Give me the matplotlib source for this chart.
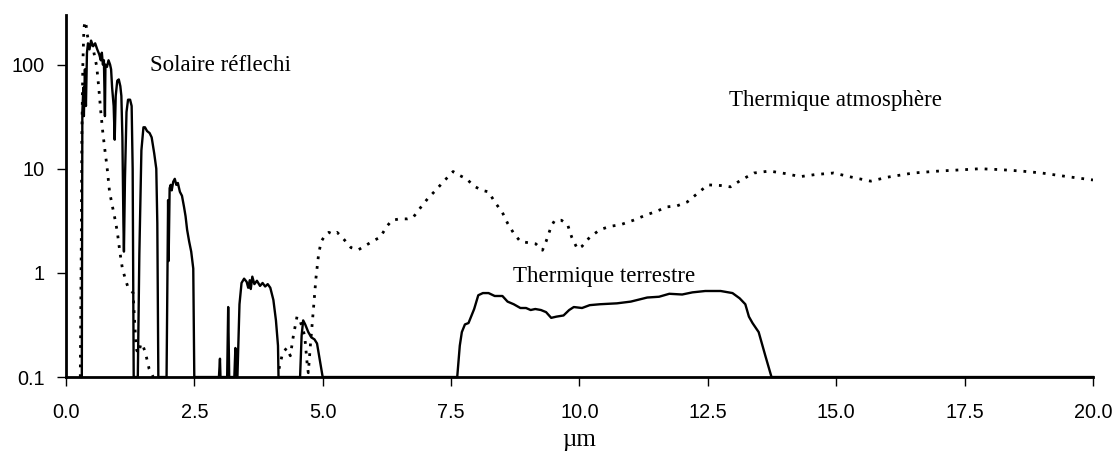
import numpy as np
import matplotlib.pyplot as plt

# courbe continue : solaire réfléchi + thermique terrestre (um, valeur)
solid_um = [0.30, 0.31, 0.32, 0.34, 0.35, 0.37, 0.39, 0.41, 0.43, 0.46, 0.49, 0.53, 0.57, 0.61,
            0.65, 0.68, 0.70, 0.72, 0.74, 0.76, 0.77, 0.80, 0.83, 0.86, 0.88, 0.90, 0.93, 0.95,
            0.97, 1.00, 1.03, 1.06, 1.08, 1.10, 1.12, 1.13, 1.15, 1.18, 1.21, 1.25, 1.28, 1.30,
            1.32, 1.40, 1.43, 1.47, 1.51, 1.54, 1.58, 1.63, 1.67, 1.72, 1.76, 1.78, 1.80, 1.96,
            1.98, 1.99, 2.00, 2.02, 2.04, 2.06, 2.09, 2.12, 2.15, 2.18, 2.22, 2.26, 2.30, 2.33,
            2.36, 2.40, 2.44, 2.48, 2.50, 2.98, 3.00, 3.01, 3.14, 3.16, 3.18, 3.28, 3.30, 3.32,
            3.34, 3.38, 3.42, 3.47, 3.52, 3.55, 3.58, 3.60, 3.63, 3.67, 3.72, 3.78, 3.83, 3.88,
            3.93, 3.98, 4.04, 4.09, 4.13, 4.14, 4.56, 4.59, 4.62, 4.66, 4.72, 4.78, 4.84, 4.89,
            4.95, 5.00, 7.62, 7.67, 7.71, 7.77, 7.84, 7.95, 8.03, 8.12, 8.23, 8.35, 8.50, 8.60,
            8.72, 8.85, 8.96, 9.05, 9.14, 9.25, 9.35, 9.45, 9.55, 9.69, 9.80, 9.89, 10.05, 10.20,
            10.40, 10.73, 11.00, 11.32, 11.55, 11.75, 12.00, 12.20, 12.45, 12.75, 12.98, 13.12,
            13.23, 13.30, 13.37, 13.49, 13.62, 13.74, 20.00]
solid_val = [0.1, 0.1, 35, 60, 32, 90, 40, 130, 160, 140, 170, 150, 160, 140,
             125, 110, 130, 100, 110, 32, 100, 95, 110, 100, 90, 60, 40, 19,
             50, 70, 72, 62, 50, 20, 3, 1.6, 8, 35, 46, 46, 40, 10,
             0.1, 0.1, 1.5, 15, 25, 25, 23, 22, 20, 14, 10, 3, 0.1, 0.1,
             1.3, 5, 1.3, 6.5, 7, 6.2, 7.5, 8.0, 7.0, 7.3, 6.0, 5.5, 4.3, 3.5,
             2.6, 2.0, 1.6, 1.1, 0.1, 0.1, 0.15, 0.1, 0.1, 0.47, 0.1, 0.1, 0.19, 0.1,
             0.1, 0.5, 0.8, 0.88, 0.82, 0.72, 0.85, 0.7, 0.92, 0.78, 0.84, 0.75, 0.80, 0.74,
             0.78, 0.72, 0.55, 0.35, 0.2, 0.1, 0.1, 0.25, 0.35, 0.32, 0.27, 0.24, 0.23, 0.21,
             0.14, 0.1, 0.1, 0.2, 0.27, 0.32, 0.33, 0.45, 0.61, 0.64, 0.64, 0.6, 0.6, 0.53,
             0.50, 0.46, 0.46, 0.44, 0.45, 0.44, 0.42, 0.37, 0.38, 0.39, 0.44, 0.47, 0.46, 0.49,
             0.50, 0.51, 0.53, 0.58, 0.59, 0.63, 0.62, 0.65, 0.67, 0.67, 0.64, 0.57,
             0.5, 0.38, 0.33, 0.27, 0.16, 0.1, 0.1]

# courbe pointillée : thermique atmosphère (deux morceaux)
dot1_um = [0.28, 0.30, 0.31, 0.33, 0.35, 0.37, 0.39, 0.41, 0.44, 0.48, 0.52, 0.56, 0.60, 0.64,
           0.68, 0.72, 0.76, 0.80, 0.85, 0.90, 0.95, 1.00, 1.05, 1.10, 1.15, 1.20, 1.25, 1.31,
           1.33, 1.36, 1.38, 1.42, 1.46, 1.50, 1.55, 1.62, 1.70]
dot1_val = [0.1, 2, 20, 100, 220, 260, 250, 200, 170, 160, 150, 120, 96, 60,
            35, 22, 15, 10.5, 6, 4.5, 3.4, 2.5, 1.6, 1.1, 0.9, 0.75, 0.7, 0.64,
            0.4, 0.22, 0.18, 0.17, 0.21, 0.2, 0.17, 0.12, 0.1]
dot2_um = [4.15, 4.22, 4.30, 4.37, 4.43, 4.50, 4.55, 4.60, 4.65, 4.70, 4.72, 4.76, 4.82, 4.87,
           4.92, 4.97, 5.05, 5.12, 5.20, 5.28, 5.36, 5.45, 5.55, 5.69, 5.85, 6.00, 6.12, 6.25,
           6.35, 6.50, 6.65, 6.76, 6.90, 7.05, 7.20, 7.35, 7.54, 7.65, 7.80, 7.95, 8.10, 8.23,
           8.35, 8.50, 8.60, 8.72, 8.85, 9.00, 9.15, 9.28, 9.35, 9.45, 9.52, 9.65, 9.77, 9.85,
           9.96, 10.05, 10.20, 10.40, 10.60, 10.80, 11.05, 11.30, 11.50, 11.70, 11.90, 12.10,
           12.30, 12.50, 12.75, 12.94, 13.15, 13.40, 13.70, 14.00, 14.30, 14.60, 14.95, 15.30,
           15.67, 16.00, 16.50, 17.00, 17.50, 17.80, 18.20, 18.60, 19.00, 19.50, 20.00]
dot2_val = [0.12, 0.17, 0.19, 0.16, 0.25, 0.38, 0.36, 0.3, 0.25, 0.13, 0.11, 0.2, 0.45, 0.9,
            1.5, 2.0, 2.3, 2.45, 2.35, 2.45, 2.25, 2.0, 1.75, 1.66, 1.85, 2.05, 2.2, 2.8,
            3.2, 3.3, 3.3, 3.4, 4.2, 5.2, 6.2, 7.5, 9.4, 8.7, 8.0, 6.8, 6.2, 6.0,
            4.8, 3.8, 3.0, 2.4, 2.0, 1.95, 1.9, 1.65, 2.0, 2.8, 3.2, 3.2, 2.9, 2.2,
            1.7, 1.8, 2.2, 2.6, 2.8, 2.9, 3.2, 3.6, 3.9, 4.3, 4.4, 4.8,
            5.8, 7.0, 6.9, 6.7, 7.8, 9.1, 9.5, 9.0, 8.4, 8.8, 9.1, 8.3,
            7.6, 8.3, 9.1, 9.5, 9.8, 10.0, 9.8, 9.5, 9.1, 8.4, 7.8]

y_ticks = [0.1, 1, 10, 100]
y_labels = ['0.1', '1', '10', '100']
x_ticks = [0, 2.5, 5, 7.5, 10, 12.5, 15, 17.5, 20]

fig = plt.figure(figsize=(11.17, 4.51), dpi=100)
ax = fig.add_axes([0.059, 0.164, 0.9195, 0.803])

ax.plot(solid_um, solid_val, color='black', lw=1.7, clip_on=False, zorder=3)
dots = dict(color='black', lw=2.0, linestyle=(0, (1, 2.5)), dash_capstyle='butt')
ax.plot(dot1_um, dot1_val, **dots)
ax.plot(dot2_um, dot2_val, **dots)

ax.set_yscale('log')
ax.set_xlim(0, 20)
ax.set_ylim(0.1, 300)
ax.set_yticks(y_ticks)
ax.set_yticklabels(y_labels)
ax.minorticks_off()
ax.set_xticks(x_ticks)
ax.set_xticklabels([f'{v:.1f}' for v in x_ticks])

for s in ['top', 'right']:
    ax.spines[s].set_visible(False)
for s in ['left', 'bottom']:
    ax.spines[s].set_linewidth(2.0)
ax.tick_params(direction='out', length=6.5, width=1, labelsize=14.3,
               labelfontfamily='Liberation Sans')
ax.tick_params(axis='x', pad=12)
ax.tick_params(axis='y', pad=9)
ax.set_xlabel('µm', family='Liberation Serif', fontsize=18, labelpad=5)

serif = dict(family='Liberation Serif', fontsize=16.6, va='center')
ax.text(1.64, 98, 'Solaire réflechi', **serif)
ax.text(12.91, 45, 'Thermique atmosphère', **serif)
ax.text(8.7, 0.93, 'Thermique terrestre', **serif)

fig.savefig('out.png', dpi=100)
